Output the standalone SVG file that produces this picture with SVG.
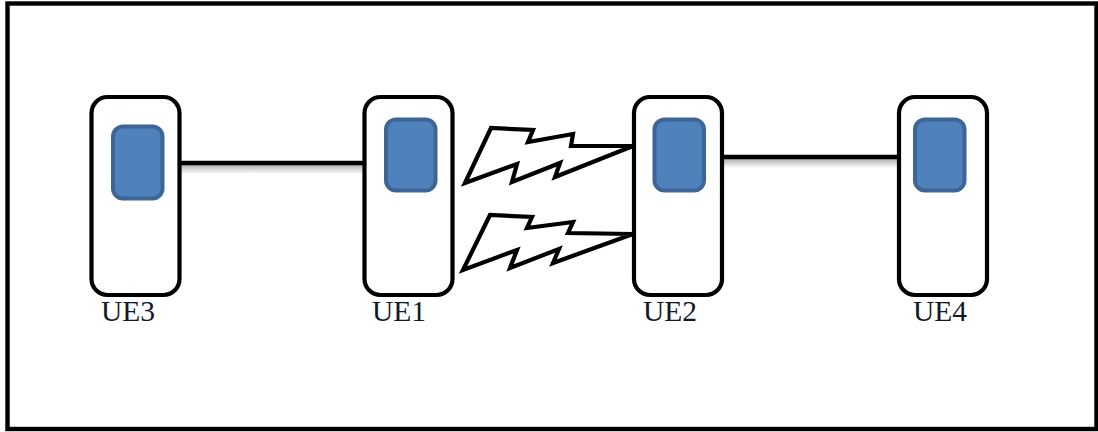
<svg xmlns="http://www.w3.org/2000/svg" width="1098" height="432" viewBox="0 0 1098 432">
<style>
.body{fill:#fff;stroke:#000;stroke-width:4.2}
.screen{fill:#4f81bd;stroke:#3d6595;stroke-width:4}
.label{font-family:"Liberation Serif","Times New Roman",serif;font-size:29.5px;fill:#10182a}
.link{stroke:#000;stroke-width:4.4;fill:none}
.bolt{fill:#fff;stroke:#000;stroke-width:4.2;stroke-linejoin:miter}
.shadow{fill:url(#sh)}
</style>
<defs>
<linearGradient id="sh" x1="0" y1="0" x2="0" y2="1">
<stop offset="0" stop-color="#b0b0b0"/>
<stop offset="1" stop-color="#fff"/>
</linearGradient>
</defs>
<rect x="0" y="0" width="1098" height="432" fill="#fff"/>
<rect id="frame" x="7.500" y="3.500" width="1089" height="425.500" fill="#fff" stroke="#000" stroke-width="4.400"/>
<g id="connectors">
<rect class="shadow" x="181" y="165" width="183" height="9"/>
<path class="link" d="M180 163H364"/>
<rect class="shadow" x="724" y="159" width="175" height="9"/>
<path class="link" d="M723 157H899"/>
<path class="bolt" d="M465 183L491 128L533 130L528 142L573 134L571 146L633 146L555 177L560 163L512 182L517 164Z"/>
<path class="bolt" d="M463 270L490 215L532 217L527 228L573 222L568 233L633 234L553 263L559 249L510 268L517 250Z"/>
</g>
<g id="ue3">
<rect class="body" x="91.500" y="97" width="88" height="198" rx="16"/>
<rect class="screen" x="113" y="126.500" width="49.500" height="72" rx="10"/>
<text class="label" x="101" y="321">UE3</text>
</g>
<g id="ue1">
<rect class="body" x="364.500" y="97" width="88" height="198" rx="16"/>
<rect class="screen" x="386" y="119.500" width="49.500" height="71" rx="10"/>
<text class="label" x="372" y="321">UE1</text>
</g>
<g id="ue2">
<rect class="body" x="634" y="97" width="88" height="198" rx="16"/>
<rect class="screen" x="654.500" y="119.500" width="49.500" height="71" rx="10"/>
<text class="label" x="643" y="321">UE2</text>
</g>
<g id="ue4">
<rect class="body" x="899" y="97" width="88" height="198" rx="16"/>
<rect class="screen" x="915" y="119.500" width="49.500" height="71" rx="10"/>
<text class="label" x="913" y="321">UE4</text>
</g>
</svg>
